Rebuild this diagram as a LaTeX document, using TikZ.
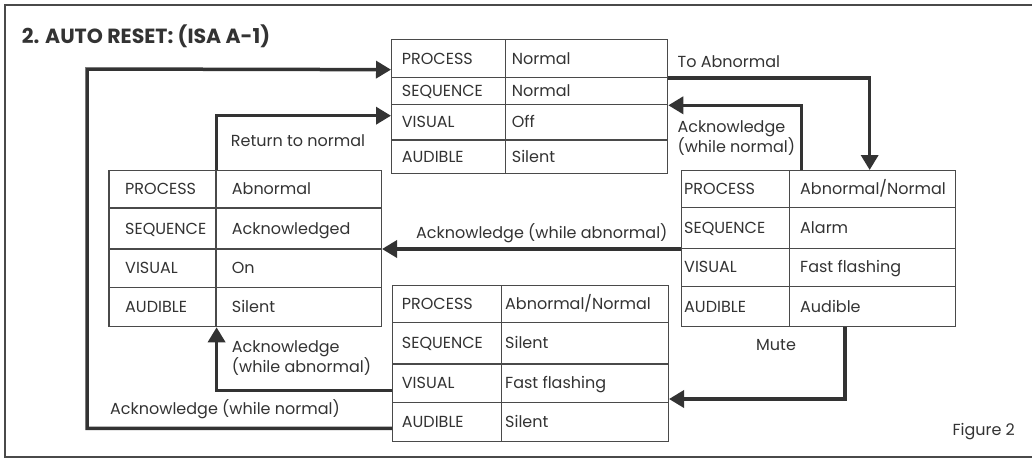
\documentclass[tikz,border=0pt]{standalone}
\usepackage{fontspec}
\setmainfont{Poppins}
\usetikzlibrary{arrows.meta,calc}
\definecolor{ink}{HTML}{333333}
\definecolor{rule}{HTML}{4A4A4A}

% current table: left edge, column divider, right edge, text paddings
\newcommand\settable[5]{\def\tA{#1}\def\tB{#2}\def\tC{#3}\def\padL{#4}\def\padR{#5}}
% one row of a state table: name, top, bottom, label, value
\newcommand\staterow[5]{%
  \node[cell, minimum width={\tB-\tA}, minimum height={#3-#2}] (#1-a) at (\tA,#2) {};
  \node[cell, minimum width={\tC-\tB}, minimum height={#3-#2}] (#1-b) at (\tB,#2) {};
  \node[txt] (#1-l) at ([xshift=\padL pt]#1-a.west) {#4};
  \node[txt] (#1-v) at ([xshift=\padR pt]#1-b.west) {#5};
}

\tikzset{
  cell/.style={draw=rule, line width=1.3pt, inner sep=0pt, anchor=north west},
  txt/.style={anchor=west, inner sep=0pt, text=ink, text height=11.2pt, text depth=0pt,
              font=\fontsize{16}{20}\selectfont},
  lab/.style={txt, align=left, text height=, text depth=},
  flow/.style={draw=ink, line width=3.5pt, line join=miter,
               -{Triangle[length=15pt,width=17pt]}},
}

\begin{document}
\begin{tikzpicture}[x=1pt,y=-1pt]
\useasboundingbox (0,0) rectangle (1032,458);

% frame
\draw[rule, line width=1.4pt] (1034,5) -- (5,5) -- (5,457) -- (1034,457);

\node[anchor=west, inner sep=0pt, text=ink, text height=14.5pt, text depth=0pt,
      font=\bfseries\fontsize{20.5}{24}\selectfont] (title) at (21.7,36.7) {2. AUTO RESET: (ISA A-1)};

% normal state
\settable{391}{505}{667}{10.7}{6.7}
\staterow{t1}{39}{76.7}{PROCESS}{Normal}
\staterow{t2}{76.7}{104}{SEQUENCE}{Normal}
\staterow{t3}{104}{139.3}{VISUAL}{Off}
\staterow{t4}{139.3}{172.7}{AUDIBLE}{Silent}

% alarm state
\settable{680.7}{789}{955}{3.3}{11}
\staterow{r1}{170}{206.7}{PROCESS}{Abnormal/Normal}
\staterow{r2}{206.7}{247.7}{SEQUENCE}{Alarm}
\staterow{r3}{247.7}{285.7}{VISUAL}{Fast flashing}
\staterow{r4}{285.7}{326}{AUDIBLE}{Audible}

% acknowledged state
\settable{108.3}{215.3}{380.7}{16.7}{16.4}
\staterow{l1}{170}{207.3}{PROCESS}{Abnormal}
\staterow{l2}{207.3}{248.3}{SEQUENCE}{Acknowledged}
\staterow{l3}{248.3}{286.7}{VISUAL}{On}
\staterow{l4}{286.7}{326}{AUDIBLE}{Silent}

% silenced state
\settable{392}{500.7}{667.7}{9.7}{4.3}
\staterow{b1}{285}{321.7}{PROCESS}{Abnormal/Normal}
\staterow{b2}{321.7}{363.3}{SEQUENCE}{Silent}
\staterow{b3}{363.3}{401.7}{VISUAL}{Fast flashing}
\staterow{b4}{401.7}{441}{AUDIBLE}{Silent}

% transitions
\draw[flow] (t1-b.south east) -| ([xshift=-3pt]r1-b.north);
\draw[flow] ([xshift=12.7pt]r1-b.north west) |- (t2-b.south east);
\draw[flow] (l1-a.north east) |- ([yshift=6.6pt]t3-a.west);
\draw[flow] (r2-a.south west) -- (r2-a.south west -| l2-b.east);
\draw[flow] ([xshift=56pt]r4-b.south west) |- ([yshift=4pt]b3-b.south east);
\draw[flow] ([yshift=-7.5pt]b3-a.west) -| (l4-a.south east);
\coordinate (loop) at (87,69);
\draw[flow] ([yshift=-6.35pt]b4-a.west) -| (loop) -- ([yshift=-11.15pt]t1-a.west);

% transition labels
\node[lab] (toab) at (677.5,61.7) {To Abnormal};
\node[lab] (acknn) at (677.3,138.3) {Acknowledge\\(while normal)};
\node[lab] (ret) at (230.7,140.7) {Return to normal};
\node[lab] (ackab) at (416,232.7) {Acknowledge (while abnormal)};
\node[lab] (mute) at (756,345) {Mute};
\node[lab] (ackab2) at (231.7,357.8) {Acknowledge\\(while abnormal)};
\node[lab] (ackn2) at (110,409.3) {Acknowledge (while normal)};
\node[lab] (fig) at (952.3,431.7) {Figure 2};
\end{tikzpicture}
\end{document}
